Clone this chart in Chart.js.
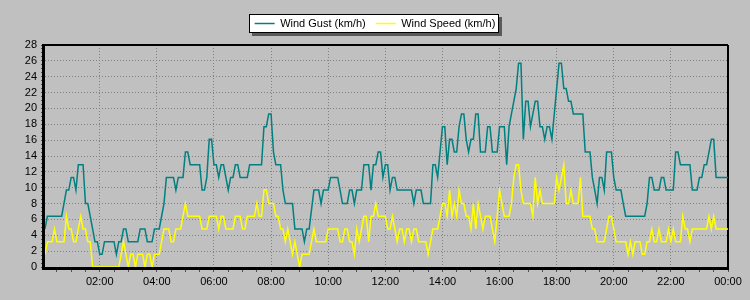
<!DOCTYPE html>
<html><head><meta charset="utf-8">
<script src="https://cdn.jsdelivr.net/npm/chart.js@4.4.1/dist/chart.umd.min.js"></script>
<style>html,body{margin:0;padding:0;background:#c0c0c0;}#wrap{width:750px;height:300px;}</style>
</head><body><div id="wrap"><canvas id="c" width="750" height="300"></canvas></div>
<script>
const seriesNames = ['Wind Gust (km/h)', 'Wind Speed (km/h)'];

const gustTimes = ['00:05','00:10','00:40','00:50','00:55','01:00','01:05','01:10','01:15','01:25','01:30','01:35','01:40','01:45','01:50','01:55','02:00','02:05','02:10','02:30','02:35','02:40','02:45','02:50','02:55','03:00','03:20','03:25','03:35','03:40','03:50','03:55','04:05','04:10','04:15','04:20','04:35','04:40','04:45','04:55','05:00','05:05','05:10','05:30','05:35','05:40','05:45','05:50','05:55','06:00','06:05','06:10','06:15','06:20','06:25','06:30','06:35','06:40','06:45','06:50','06:55','07:10','07:15','07:40','07:45','07:50','07:55','08:00','08:05','08:10','08:20','08:25','08:30','08:45','08:50','09:05','09:10','09:15','09:20','09:30','09:40','09:45','09:50','10:00','10:05','10:20','10:25','10:30','10:40','10:45','10:50','10:55','11:00','11:10','11:15','11:25','11:30','11:35','11:40','11:45','11:50','11:55','12:00','12:05','12:10','12:15','12:20','12:25','12:55','13:00','13:05','13:15','13:20','13:35','13:40','13:45','13:50','13:55','14:00','14:05','14:10','14:15','14:20','14:25','14:30','14:35','14:40','14:45','14:50','14:55','15:00','15:05','15:10','15:15','15:20','15:30','15:35','15:40','15:45','15:55','16:00','16:10','16:15','16:20','16:25','16:30','16:35','16:40','16:45','16:50','16:55','17:00','17:05','17:10','17:15','17:20','17:25','17:30','17:35','17:40','17:45','17:50','17:55','18:00','18:05','18:10','18:15','18:20','18:25','18:30','18:35','18:55','19:00','19:10','19:15','19:20','19:25','19:30','19:35','19:40','19:45','19:55','20:00','20:05','20:15','20:20','20:25','21:05','21:10','21:15','21:20','21:25','21:35','21:40','21:45','21:50','22:05','22:10','22:15','22:20','22:40','22:45','22:55','23:00','23:05','23:10','23:15','23:20','23:25','23:30','23:35','24:00'];
const gustValues = [4.8,6.4,6.4,9.7,9.7,11.3,11.3,9.7,12.9,12.9,8.0,8.0,6.4,4.8,3.2,3.2,1.6,1.6,3.2,3.2,1.6,3.2,3.2,4.8,4.8,3.2,3.2,4.8,4.8,3.2,3.2,4.8,4.8,6.4,8.0,11.3,11.3,9.7,11.3,11.3,14.5,14.5,12.9,12.9,9.7,9.7,11.3,16.1,16.1,12.9,12.9,11.3,12.9,12.9,11.3,9.7,11.3,11.3,12.9,12.9,11.3,11.3,12.9,12.9,17.7,17.7,19.3,19.3,14.5,12.9,12.9,9.7,8.0,8.0,4.8,4.8,3.2,4.8,4.8,9.7,9.7,8.0,9.7,9.7,11.3,11.3,9.7,8.0,8.0,9.7,9.7,8.0,9.7,9.7,12.9,12.9,9.7,12.9,12.9,14.5,14.5,11.3,12.9,12.9,9.7,11.3,11.3,9.7,9.7,8.0,9.7,9.7,8.0,8.0,12.9,12.9,11.3,14.5,17.7,17.7,12.9,16.1,16.1,14.5,14.5,17.7,19.3,19.3,16.1,14.5,16.1,16.1,19.3,19.3,14.5,14.5,17.7,17.7,14.5,14.5,17.7,17.7,12.9,17.7,19.3,20.9,22.5,25.7,25.7,16.1,20.9,20.9,17.7,19.3,20.9,20.9,17.7,17.7,16.1,17.7,17.7,16.1,19.3,22.5,25.7,25.7,22.5,22.5,20.9,20.9,19.3,19.3,14.5,14.5,11.3,9.7,8.0,11.3,11.3,9.7,14.5,14.5,11.3,9.7,9.7,8.0,6.4,6.4,8.0,11.3,11.3,9.7,9.7,11.3,11.3,9.7,9.7,14.5,14.5,12.9,12.9,9.7,9.7,11.3,11.3,12.9,12.9,14.5,16.1,16.1,11.3,11.3];

const speedTimes = ['00:05','00:10','00:20','00:25','00:30','00:45','00:50','00:55','01:00','01:05','01:10','01:15','01:20','01:25','01:30','01:35','01:40','01:45','02:40','02:50','03:00','03:05','03:10','03:15','03:20','03:30','03:35','03:40','03:45','03:50','03:55','04:05','04:10','04:15','04:25','04:30','04:35','04:40','04:50','04:55','05:00','05:05','05:30','05:35','05:45','05:50','06:05','06:10','06:15','06:20','06:25','06:40','06:45','06:55','07:00','07:05','07:10','07:25','07:30','07:35','07:40','07:45','07:50','07:55','08:05','08:10','08:15','08:20','08:25','08:30','08:35','08:40','08:45','08:50','08:55','09:00','09:05','09:20','09:30','09:35','09:55','10:00','10:20','10:25','10:30','10:35','10:40','10:45','10:50','10:55','11:00','11:05','11:15','11:20','11:25','11:30','11:35','11:40','11:45','12:00','12:05','12:10','12:15','12:20','12:25','12:30','12:35','12:40','12:45','12:50','12:55','13:00','13:05','13:10','13:25','13:30','13:40','13:50','13:55','14:00','14:05','14:10','14:15','14:20','14:25','14:30','14:35','14:40','14:45','14:50','14:55','15:00','15:05','15:10','15:15','15:20','15:25','15:30','15:40','15:45','15:50','15:55','16:00','16:05','16:10','16:20','16:25','16:30','16:35','16:40','16:45','16:50','17:05','17:10','17:15','17:20','17:25','17:30','17:55','18:00','18:05','18:10','18:15','18:20','18:25','18:30','18:35','18:45','18:50','18:55','19:10','19:15','19:20','19:25','19:40','19:45','19:50','19:55','20:00','20:05','20:25','20:30','20:35','20:40','20:45','20:55','21:00','21:05','21:10','21:15','21:20','21:25','21:30','21:35','21:40','21:50','21:55','22:00','22:05','22:10','22:20','22:25','22:30','22:35','22:40','22:45','23:15','23:20','23:25','23:30','23:35','24:00'];
const speedValues = [1.6,3.2,3.2,4.8,3.2,3.2,6.4,4.8,4.8,3.2,3.2,4.8,6.4,4.8,4.8,3.2,3.2,0,0,3.2,0,1.6,1.6,0,1.6,1.6,0,1.6,1.6,0,1.6,1.6,3.2,4.8,4.8,3.2,3.2,4.8,4.8,6.4,8.0,6.4,6.4,4.8,4.8,6.4,6.4,4.8,6.4,6.4,4.8,4.8,6.4,6.4,4.8,4.8,6.4,6.4,8.0,6.4,6.4,9.7,9.7,8.0,8.0,6.4,6.4,4.8,4.8,3.2,4.8,3.2,1.6,3.2,1.6,0,1.6,1.6,4.8,3.2,3.2,4.8,4.8,3.2,3.2,4.8,4.8,3.2,3.2,1.6,4.8,3.2,6.4,6.4,3.2,6.4,6.4,8.0,6.4,6.4,4.8,4.8,6.4,4.8,3.2,4.8,4.8,3.2,4.8,4.8,3.2,4.8,4.8,3.2,3.2,1.6,4.8,4.8,6.4,8.0,8.0,6.4,9.7,6.4,8.0,6.4,9.7,8.0,8.0,6.4,6.4,4.8,8.0,4.8,8.0,6.4,4.8,6.4,6.4,4.8,3.2,6.4,9.7,8.0,6.4,6.4,8.0,11.3,12.9,12.9,9.7,8.0,8.0,6.4,11.3,8.0,9.7,8.0,8.0,11.3,9.7,11.3,12.9,8.0,8.0,9.7,8.0,8.0,11.3,6.4,6.4,4.8,4.8,3.2,3.2,4.8,6.4,6.4,4.8,3.2,3.2,1.6,3.2,1.6,3.2,3.2,1.6,1.6,3.2,3.2,4.8,3.2,3.2,4.8,3.2,3.2,4.8,3.2,4.8,3.2,3.2,6.4,4.8,4.8,3.2,4.8,4.8,6.4,4.8,6.4,4.8,4.8];

const yTickMax = 28;
const yLabelStep = 2;
const xLabelStepMinutes = 120;

function toMin(t){ const p = t.split(':'); return (+p[0])*60 + (+p[1]); }
function fmtTime(v){ const h = Math.floor(v/60)%24, m = v%60; return String(h).padStart(2,'0') + ':' + String(m).padStart(2,'0'); }

const gustData = gustTimes.map((t,i)=>({x: toMin(t), y: gustValues[i]}));
const speedData = speedTimes.map((t,i)=>({x: toMin(t), y: speedValues[i]}));

const FONT = {family: '"Liberation Sans", Arial, sans-serif', size: 11};

const bgPlugin = {
  id: 'bgPlugin',
  beforeLayout(chart){
    const lg = chart.legend;
    if (lg && !lg._extraWrapped){
      const f = lg.fit;
      lg.fit = function(){ f.call(this); this.height += 6; };
      lg._extraWrapped = true;
    }
  },
  afterLayout(chart){
    const lg = chart.legend;
    if (lg){ lg.right = chart.width; lg.width = chart.width - lg.left; }
  },
  beforeDraw(chart){
    const ctx = chart.ctx;
    ctx.save();
    ctx.fillStyle = '#c0c0c0';
    ctx.fillRect(0,0,chart.width,chart.height);
    const lg = chart.legend;
    if (lg && lg.legendHitBoxes && lg.legendHitBoxes.length){
      let l=Infinity,r=-Infinity,t=Infinity,b=-Infinity;
      lg.legendHitBoxes.forEach(h=>{ l=Math.min(l,h.left); r=Math.max(r,h.left+h.width); t=Math.min(t,h.top); b=Math.max(b,h.top+h.height); });
      const x = Math.round(l-6), y = Math.round(t-4), w = Math.round(r+3-(l-6)), hh = Math.round(b+4-(t-4));
      ctx.fillStyle = '#5a5a5a';
      ctx.fillRect(x+3, y+3, w, hh);
      ctx.fillStyle = '#ffffff';
      ctx.fillRect(x, y, w, hh);
      ctx.strokeStyle = '#000';
      ctx.lineWidth = 1;
      ctx.strokeRect(x+0.5, y+0.5, w-1, hh-1);
    }
    ctx.restore();
  },
  beforeDatasetsDraw(chart){
    const {ctx, chartArea: a} = chart;
    ctx.save();
    ctx.strokeStyle = '#000';
    ctx.lineWidth = 2;
    ctx.beginPath();
    ctx.moveTo(a.left, a.top); ctx.lineTo(a.right, a.top);
    ctx.moveTo(a.right, a.top); ctx.lineTo(a.right, a.bottom);
    ctx.stroke();
    ctx.lineWidth = 3;
    ctx.beginPath();
    ctx.moveTo(a.left-1.5, a.top-1); ctx.lineTo(a.left-1.5, a.bottom+3);
    ctx.moveTo(a.left-3, a.bottom+1.5); ctx.lineTo(a.right+1, a.bottom+1.5);
    ctx.stroke();
    ctx.restore();
  }
};

new Chart(document.getElementById('c'), {
  type: 'line',
  data: {
    datasets: [
      {label: seriesNames[0], data: gustData, borderColor: '#008080', backgroundColor: '#008080', borderWidth: 1.5, pointRadius: 0, tension: 0, fill: false},
      {label: seriesNames[1], data: speedData, borderColor: '#ffff00', backgroundColor: '#ffff00', borderWidth: 1.5, pointRadius: 0, tension: 0, fill: false}
    ]
  },
  options: {
    responsive: false,
    devicePixelRatio: 1,
    animation: false,
    layout: {padding: {top: 8, right: 22, bottom: 0, left: 0}},
    plugins: {
      legend: {
        display: true, position: 'top',
        labels: {usePointStyle: true, pointStyle: 'line', pointStyleWidth: 20, boxWidth: 20, padding: 10, color: '#000', font: FONT}
      },
      tooltip: {enabled: false}
    },
    scales: {
      x: {
        type: 'linear', min: 5, max: 1440,
        afterFit: s => { s.height = 33; },
        ticks: {stepSize: 30, includeBounds: false, autoSkip: false, maxRotation: 0, padding: 3, color: '#000', font: FONT,
          callback: v => (v % xLabelStepMinutes === 0 ? fmtTime(v) : '')},
        grid: {color: c => (c.tick && c.tick.value % xLabelStepMinutes === 0 ? '#808080' : 'rgba(0,0,0,0)'), lineWidth: 1, tickLength: 5, tickColor: '#505050'},
        border: {display: false, dash: [1,2]}
      },
      y: {
        min: 0, max: yTickMax,
        afterFit: s => { s.width = 45; },
        ticks: {stepSize: 0.5, autoSkip: false, padding: 4, color: '#000', font: FONT,
          callback: v => (v % yLabelStep === 0 ? String(v) : '')},
        grid: {color: c => (c.tick && c.tick.value % yLabelStep === 0 ? '#808080' : 'rgba(0,0,0,0)'), lineWidth: 1, tickLength: 4, tickColor: '#505050'},
        border: {display: false, dash: [1,2]}
      }
    }
  },
  plugins: [bgPlugin]
});
</script>
</body></html>
